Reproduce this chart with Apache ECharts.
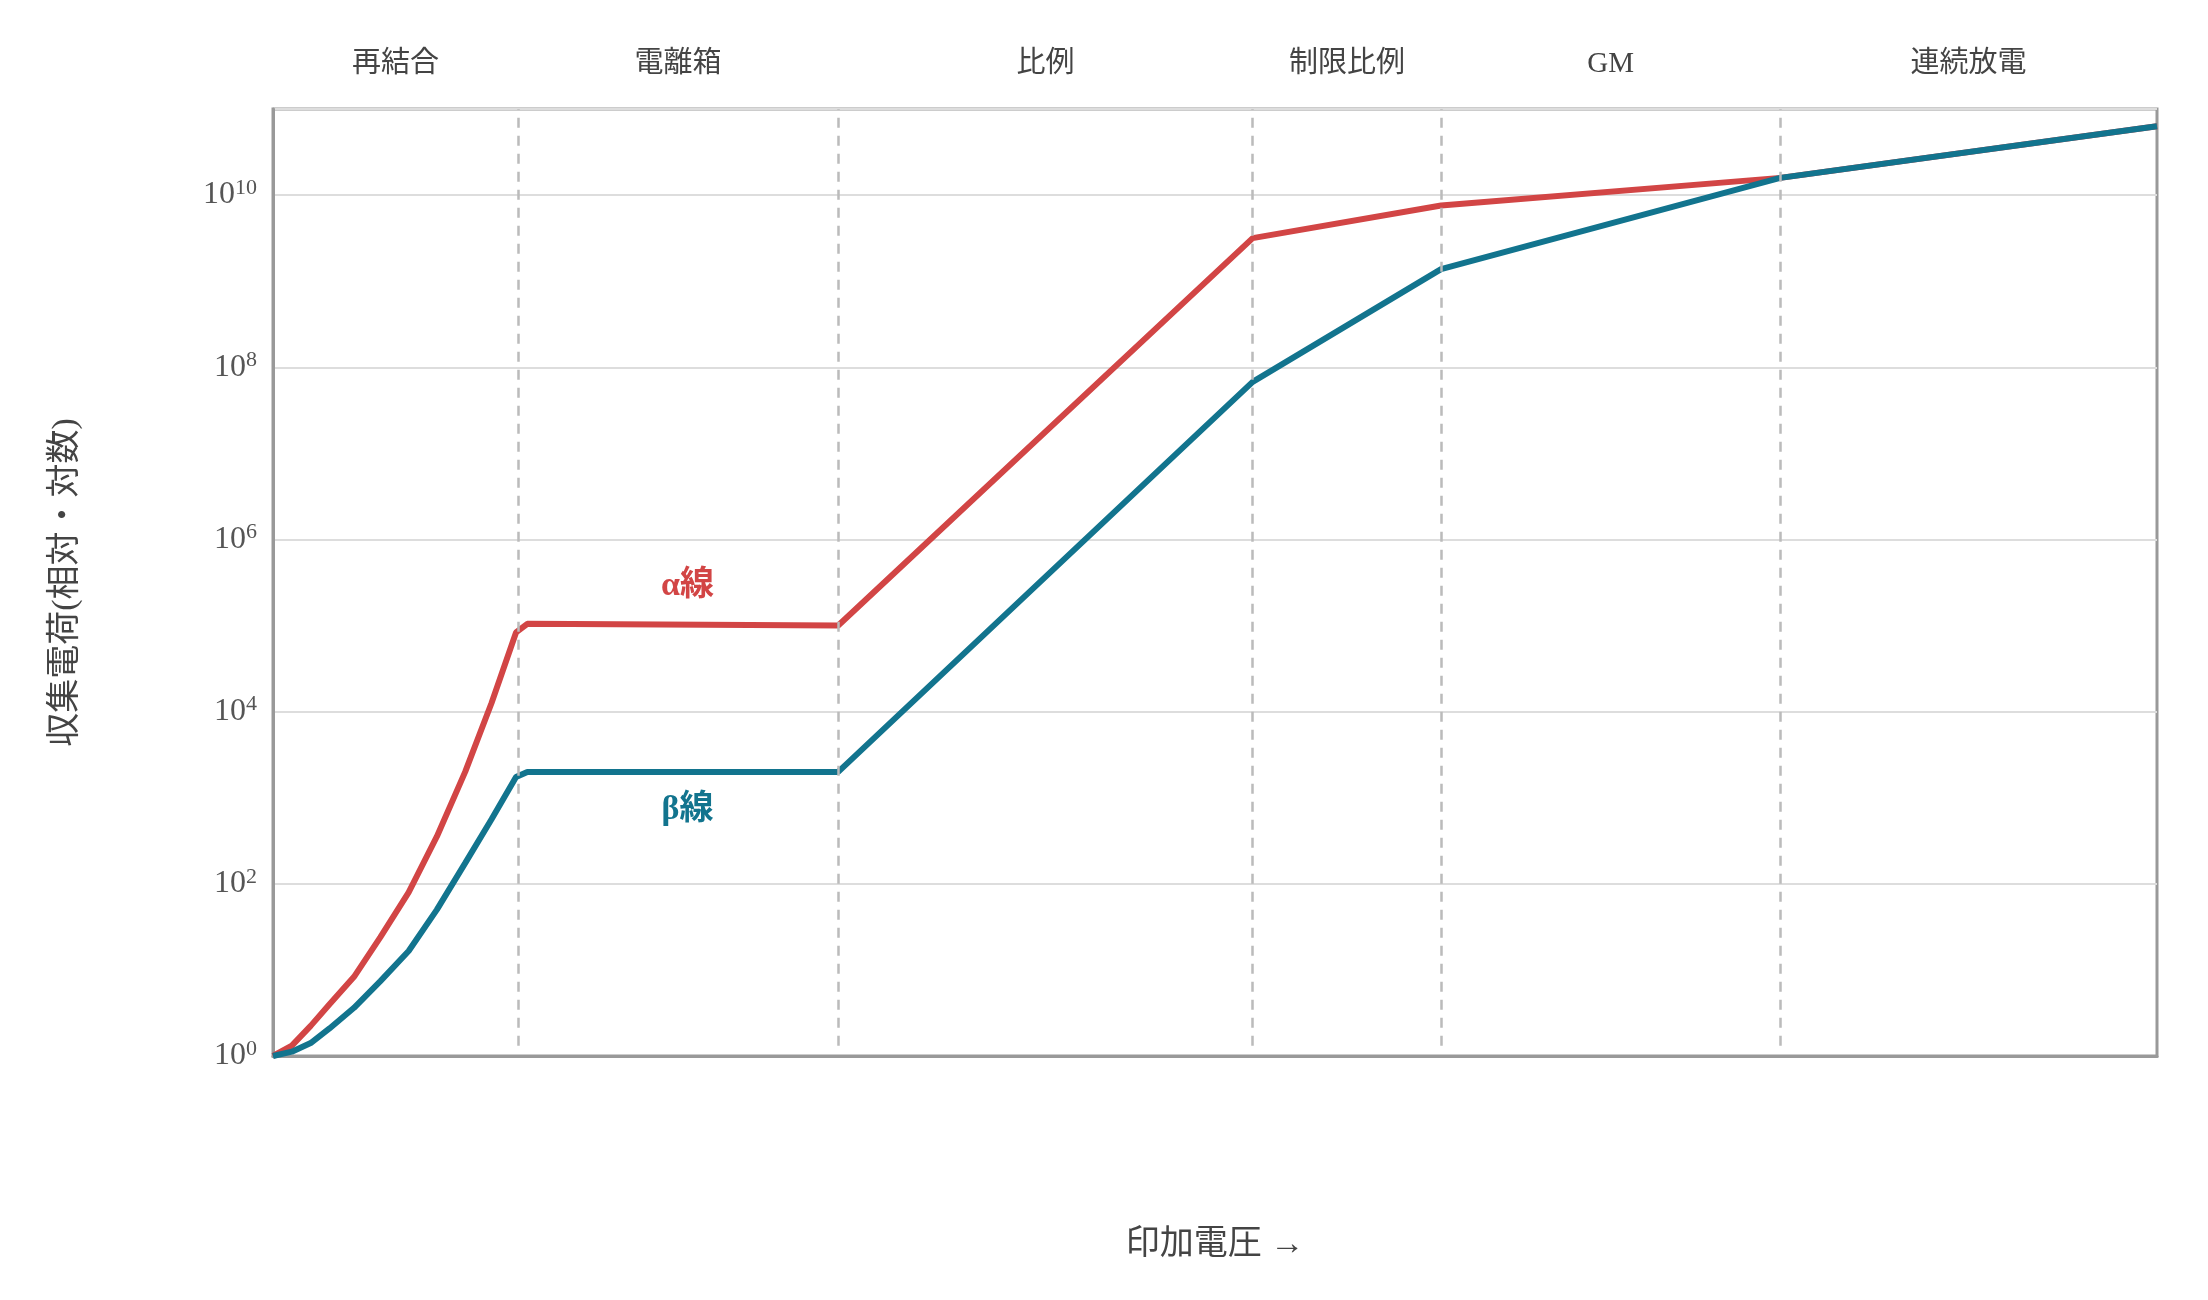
<!DOCTYPE html>
<html><head><meta charset="utf-8">
<script src="https://cdn.jsdelivr.net/npm/echarts@6/dist/echarts.min.js"></script>
<style>html,body{margin:0;padding:0;background:#fff}#c{width:2208px;height:1300px}</style>
</head><body><div id="c"></div>
<script>
// x: applied voltage (arbitrary 0-100), y: log10 of collected charge
const alphaX = [0, 1, 2, 3, 4.3, 5.7, 7.2, 8.7, 10.2, 11.6, 12.9, 13.5, 30, 52, 62, 80, 100];
const alphaY = [0, 0.12, 0.35, 0.6, 0.92, 1.38, 1.9, 2.55, 3.3, 4.1, 4.92, 5.02, 5.0, 9.5, 9.88, 10.2, 10.8];
const betaX = [0, 1, 2, 3, 4.3, 5.7, 7.2, 8.7, 10.2, 11.6, 12.9, 13.5, 30, 52, 62, 80, 100];
const betaY = [0, 0.05, 0.15, 0.32, 0.56, 0.87, 1.22, 1.7, 2.24, 2.75, 3.24, 3.3, 3.3, 7.83, 9.14, 10.2, 10.8];
const boundaries = [13, 30, 52, 62, 80];
const regionNames = ['再結合', '電離箱', '比例', '制限比例', 'GM', '連続放電'];
const regionEdges = [0, 13, 30, 52, 62, 80, 100];
const seriesNames = ['α線', 'β線'];
const labelPos = [[22, 5.46], [22, 2.86]];

const FONT = '"Liberation Serif","Noto Sans CJK JP",serif';
const red = '#d24545', teal = '#12748e';
const pairs = (xs, ys) => xs.map((x, i) => [x, ys[i]]);
const areas = regionNames.map((n, i) => [{xAxis: regionEdges[i], name: n}, {xAxis: regionEdges[i + 1]}]);

const chart = echarts.init(document.getElementById('c'));
chart.setOption({
  animation: false,
  grid: {left: 273, right: 51, top: 109, bottom: 244, show: true, borderColor: '#999', borderWidth: 3},
  xAxis: {type: 'value', min: 0, max: 100, axisLabel: {show: false}, axisTick: {show: false},
    splitLine: {show: false}, axisLine: {lineStyle: {color: '#999', width: 3}},
    name: '印加電圧 →', nameLocation: 'middle', nameGap: 172,
    nameTextStyle: {fontFamily: FONT, fontSize: 34, color: '#444'}},
  yAxis: {type: 'value', min: 0, max: 11, interval: 2,
    axisLine: {show: true, lineStyle: {color: '#999', width: 3}}, axisTick: {show: false},
    splitLine: {lineStyle: {color: '#ddd', width: 2}},
    axisLabel: {margin: 16, showMaxLabel: false, formatter: v => '{b|10}{s|' + v + '}',
      rich: {b: {fontFamily: FONT, fontSize: 32, color: '#555'},
             s: {fontFamily: FONT, fontSize: 22, color: '#555', verticalAlign: 'top', padding: [0, 0, 14, 0]}}},
    name: '収集電荷(相対・対数)', nameLocation: 'middle', nameRotate: 90, nameGap: 190,
    nameTextStyle: {fontFamily: FONT, fontSize: 34, color: '#444'}},
  series: [
    {name: seriesNames[0], type: 'line', data: pairs(alphaX, alphaY), symbol: 'none', smooth: false,
      lineStyle: {color: red, width: 6}, z: 3,
      markLine: {silent: true, symbol: 'none', label: {show: false},
        lineStyle: {color: '#bbb', type: [10, 8], width: 2.5},
        data: boundaries.map(b => [{coord: [b, 0.12]}, {coord: [b, 11]}])},
      markArea: {silent: true, itemStyle: {color: 'rgba(0,0,0,0)'},
        label: {show: true, position: 'top', distance: 30, fontFamily: FONT, fontSize: 29, color: '#444'},
        data: areas},
      markPoint: {symbolSize: 0, data: [{coord: labelPos[0], value: seriesNames[0]}],
        label: {show: true, formatter: seriesNames[0], fontFamily: FONT, fontSize: 34, fontWeight: 'bold', color: red}}},
    {name: seriesNames[1], type: 'line', data: pairs(betaX, betaY), symbol: 'none', smooth: false,
      lineStyle: {color: teal, width: 6}, z: 4,
      markPoint: {symbolSize: 0, data: [{coord: labelPos[1], value: seriesNames[1]}],
        label: {show: true, formatter: seriesNames[1], fontFamily: FONT, fontSize: 34, fontWeight: 'bold', color: teal}}}
  ]
});
</script></body></html>
